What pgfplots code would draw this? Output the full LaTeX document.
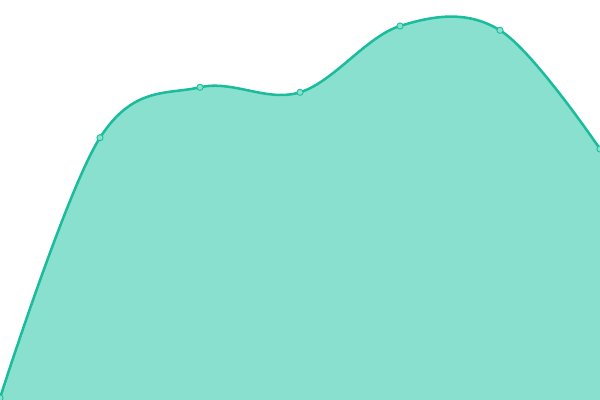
\documentclass[border=0pt]{standalone}
\usepackage{pgfplots}
\pgfplotsset{compat=1.18}
\definecolor{lineteal}{HTML}{1ABC9C}
\definecolor{fillteal}{HTML}{89E0CF}
\begin{document}
\begin{tikzpicture}
\begin{axis}[
    hide axis,
    scale only axis,
    width=15cm, height=10cm,
    xmin=0, xmax=600, ymin=0, ymax=400,
    clip=true, clip mode=individual
]
\addplot[draw=none, fill=fillteal, smooth, tension=0.6] coordinates {
    (0,2) (100,262.3) (200,312.7) (300,307.7) (400,374) (500,369.7) (600,251)
} \closedcycle;
\addplot[lineteal, line width=1.8pt, smooth, tension=0.6,
    mark=*, mark size=2.2pt,
    mark options={fill=fillteal, draw=lineteal, line width=0.6pt}] coordinates {
    (0,2) (100,262.3) (200,312.7) (300,307.7) (400,374) (500,369.7) (600,251)
};
\end{axis}
\pgfresetboundingbox
\path (current axis.south west) rectangle (current axis.north east);
\end{tikzpicture}
\end{document}
